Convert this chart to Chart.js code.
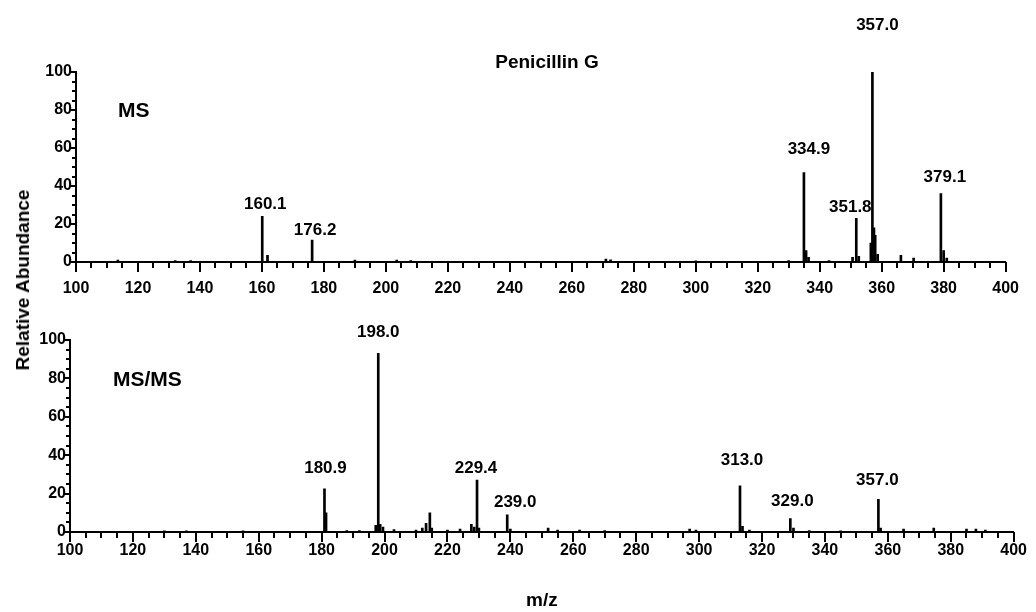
<!DOCTYPE html>
<html>
<head>
<meta charset="utf-8">
<title>Penicillin G</title>
<script src="https://cdn.jsdelivr.net/npm/chart.js@4.4.1/dist/chart.umd.min.js"></script>
<style>
    html, body { margin: 0; padding: 0; background: #fff; }
    #wrap { position: relative; width: 1036px; height: 612px; overflow: hidden; }
    canvas { position: absolute; left: 0; }
    #msChart { top: 0; }
    #msmsChart { top: 300px; }
    #yTitle {
        position: absolute; left: 23px; top: 280px;
        transform: translate(-50%, -50%) rotate(-90deg);
        font: bold 19px 'Liberation Sans', Arial, sans-serif;
        white-space: nowrap; color: #000;
    }
</style>
</head>
<body>
<div id="wrap">
    <canvas id="msChart" width="1036" height="300"></canvas>
    <canvas id="msmsChart" width="1036" height="312"></canvas>
    <div id="yTitle">Relative Abundance</div>
</div>
<script>
// MS spectrum (top panel)
const msMz = [113.5, 132, 137, 160.1, 161.8, 176.2, 190, 203.5, 208, 271, 272.5, 300, 330,
    334.9, 335.6, 336.4, 343, 350.6, 351.8, 352.6, 356.5, 357.0, 357.5, 357.9, 358.7,
    366.2, 370.3, 379.1, 380.0, 381];
const msAbundance = [1.0, 0.7, 0.7, 24, 3.5, 11.6, 1, 1, 0.8, 1.5, 1.2, 0.6, 0.8,
    47, 6, 2.5, 0.8, 2.5, 23, 3, 10, 100, 18, 14, 4,
    3.5, 2, 36, 6, 2];
const msLabelMz = [160.1, 176.2, 334.9, 351.8, 357.0, 379.1];

// MS/MS spectrum (bottom panel)
const msmsMz = [130, 137, 155, 180.9, 181.4, 188, 192, 197.2, 198.0, 198.6, 199.5, 203,
    210, 212, 213.2, 214.4, 215, 220, 224, 227.6, 228.5, 229.4, 230, 239.0, 240,
    252, 255, 262, 270, 297, 299, 313.0, 313.8, 316, 329.0, 330, 335, 345,
    357.0, 357.7, 365, 374.6, 385, 388, 391];
const msmsAbundance = [0.6, 0.6, 0.6, 22.5, 10, 0.8, 0.8, 3.5, 93, 4, 2.5, 1.2,
    1, 2, 4.5, 10, 2, 1, 1.5, 4, 2.5, 27, 2, 9, 1.5,
    2, 1, 1, 0.8, 1.5, 1, 24, 3, 1, 7, 2, 0.8, 0.6,
    17, 2, 1.5, 2, 1.5, 1.5, 1];
const msmsLabelMz = [180.9, 198.0, 229.4, 239.0, 313.0, 329.0, 357.0];

// axis ticks
const xTickLabels = [100, 120, 140, 160, 180, 200, 220, 240, 260, 280, 300, 320, 340, 360, 380, 400];
const yTickLabels = [0, 20, 40, 60, 80, 100];

const FONT = "'Liberation Sans', Arial, sans-serif";

// draws tick marks (long for labelled ticks), peak labels and panel texts
function spectrumMarks(cfg) {
    return {
        id: 'spectrumMarks',
        afterDraw(chart) {
            const { ctx, chartArea } = chart;
            const xs = chart.scales.x;
            const ys = chart.scales.y;
            ctx.save();
            ctx.strokeStyle = '#000';
            ctx.lineWidth = 2;

            xs.ticks.forEach(t => {
                const px = Math.round(xs.getPixelForValue(t.value));
                const len = xTickLabels.includes(t.value) ? 10 : 6;
                ctx.beginPath();
                ctx.moveTo(px, chartArea.bottom);
                ctx.lineTo(px, chartArea.bottom + len);
                ctx.stroke();
            });
            ys.ticks.forEach(t => {
                const py = Math.round(ys.getPixelForValue(t.value));
                const len = yTickLabels.includes(t.value) ? 7 : 4;
                ctx.beginPath();
                ctx.moveTo(chartArea.left - len, py);
                ctx.lineTo(chartArea.left, py);
                ctx.stroke();
            });

            ctx.fillStyle = '#000';
            ctx.font = `bold 17px ${FONT}`;
            ctx.textAlign = 'center';
            ctx.textBaseline = 'alphabetic';
            cfg.labelMz.forEach((m, i) => {
                const k = cfg.mz.indexOf(m);
                const px = xs.getPixelForValue(m) + cfg.labelDx[i];
                const py = ys.getPixelForValue(cfg.values[k]) - cfg.labelGap[i];
                ctx.fillText(m.toFixed(1), px, py);
            });

            ctx.textBaseline = 'middle';
            cfg.texts.forEach(t => {
                ctx.font = `bold ${t.size}px ${FONT}`;
                ctx.textAlign = t.align;
                ctx.fillText(t.text, t.x, t.y);
            });
            ctx.restore();
        }
    };
}

function buildSpectrum(id, mz, abundance, cfg) {
    return new Chart(document.getElementById(id), {
        type: 'bar',
        data: {
            datasets: [{
                data: mz.map((m, i) => ({ x: m, y: abundance[i] })),
                backgroundColor: '#000',
                borderWidth: 0,
                barThickness: 2,
                grouped: false
            }]
        },
        options: {
            responsive: false,
            animation: false,
            devicePixelRatio: 1,
            layout: { padding: { top: cfg.top, right: cfg.right, left: 0, bottom: 0 } },
            plugins: {
                legend: { display: false },
                tooltip: { enabled: false }
            },
            scales: {
                x: {
                    type: 'linear',
                    min: 100,
                    max: 400,
                    offset: false,
                    grid: { drawOnChartArea: false, drawTicks: false, offset: false },
                    border: { display: true, color: '#000', width: 2 },
                    ticks: {
                        stepSize: 5,
                        autoSkip: false,
                        maxRotation: 0,
                        padding: cfg.xPad,
                        color: '#000',
                        font: { family: FONT, size: 16, weight: 'bold' },
                        callback: v => xTickLabels.includes(v) ? String(v) : ''
                    },
                    title: cfg.xTitle
                        ? { display: true, text: cfg.xTitle, color: '#000', padding: 0, font: { family: FONT, size: 19, weight: 'bold' } }
                        : { display: false },
                    afterFit: s => { s.height = cfg.xHeight; }
                },
                y: {
                    min: 0,
                    max: 100,
                    grid: { drawOnChartArea: false, drawTicks: false },
                    border: { display: true, color: '#000', width: 2 },
                    ticks: {
                        stepSize: 5,
                        autoSkip: false,
                        padding: 4,
                        color: '#000',
                        font: { family: FONT, size: 16, weight: 'bold' },
                        callback: v => yTickLabels.includes(v) ? String(v) : ''
                    },
                    afterFit: s => { s.width = cfg.yWidth; }
                }
            }
        },
        plugins: [spectrumMarks(cfg)]
    });
}

buildSpectrum('msChart', msMz, msAbundance, {
    top: 72, right: 20, yWidth: 76, xHeight: 38, xPad: 17,
    mz: msMz, values: msAbundance, labelMz: msLabelMz,
    labelDx: [3, 3, 5, -6, 5, 4],
    labelGap: [7, 5, 19, 6, 42, 12],
    texts: [
        { text: 'Penicillin G', x: 547, y: 63, size: 19, align: 'center' },
        { text: 'MS', x: 118, y: 111, size: 21, align: 'left' }
    ]
});

buildSpectrum('msmsChart', msmsMz, msmsAbundance, {
    top: 40, right: 21, yWidth: 70, xHeight: 80, xPad: 9, xTitle: 'm/z',
    mz: msmsMz, values: msmsAbundance, labelMz: msmsLabelMz,
    labelDx: [1, 0, -1, 8, 2, 2, -1],
    labelGap: [16, 16, 7, 8, 21, 13, 14],
    texts: [
        { text: 'MS/MS', x: 113, y: 80, size: 21, align: 'left' }
    ]
});
</script>
</body>
</html>
